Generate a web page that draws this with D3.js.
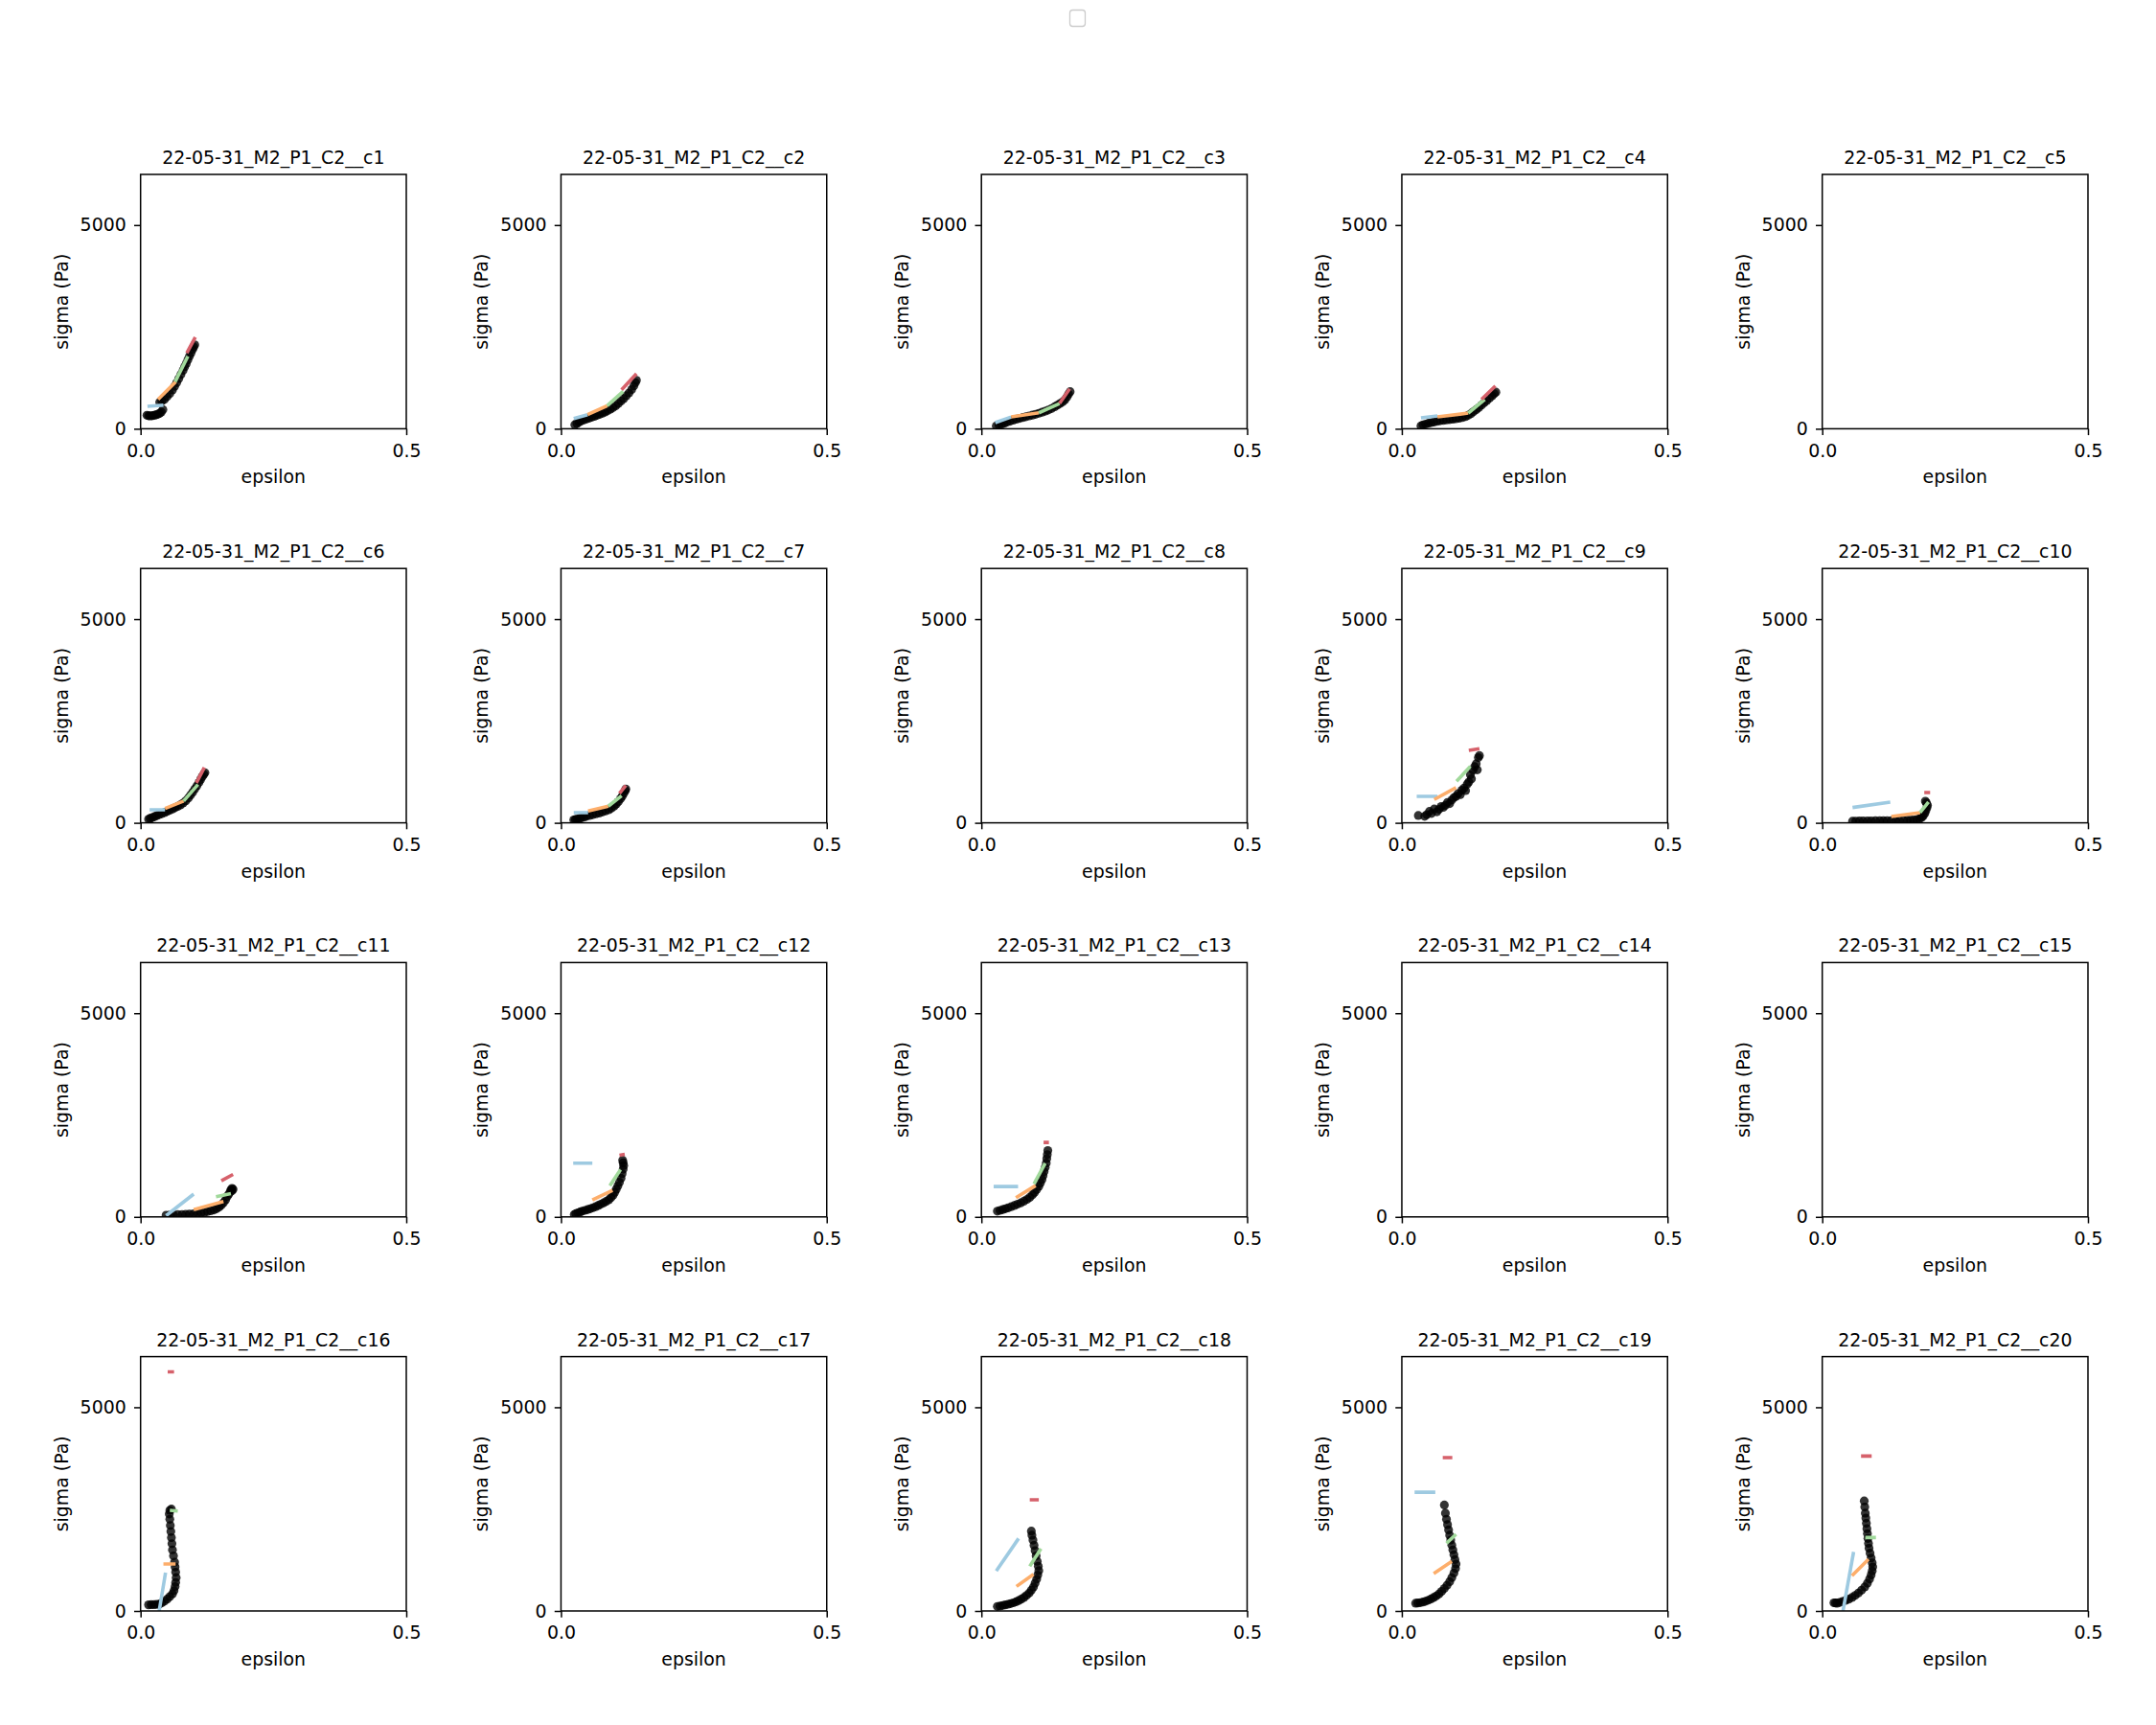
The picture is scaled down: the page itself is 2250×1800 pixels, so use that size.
<!DOCTYPE html>
<html>
<head>
<meta charset="utf-8">
<script src="https://cdn.jsdelivr.net/npm/d3@7"></script>
<style>
  html, body { margin: 0; padding: 0; background: #ffffff; }
  svg { display: block; font-family: "DejaVu Sans", sans-serif; }
</style>
</head>
<body>
<svg id="chart" width="2250" height="1800"></svg>
<script>
// ---------------- data ----------------
const cellNames = [
  "22-05-31_M2_P1_C2__c1","22-05-31_M2_P1_C2__c2","22-05-31_M2_P1_C2__c3","22-05-31_M2_P1_C2__c4","22-05-31_M2_P1_C2__c5",
  "22-05-31_M2_P1_C2__c6","22-05-31_M2_P1_C2__c7","22-05-31_M2_P1_C2__c8","22-05-31_M2_P1_C2__c9","22-05-31_M2_P1_C2__c10",
  "22-05-31_M2_P1_C2__c11","22-05-31_M2_P1_C2__c12","22-05-31_M2_P1_C2__c13","22-05-31_M2_P1_C2__c14","22-05-31_M2_P1_C2__c15",
  "22-05-31_M2_P1_C2__c16","22-05-31_M2_P1_C2__c17","22-05-31_M2_P1_C2__c18","22-05-31_M2_P1_C2__c19","22-05-31_M2_P1_C2__c20"
];
const xTicks = [0, 0.5];
const yTicks = [0, 5000];
const xLabel = "epsilon";
const yLabel = "sigma (Pa)";
const fitColors = ["#9ecae1", "#fdae6b", "#a1d99b", "#d6616b"];

// strain (epsilon) and stress (sigma, Pa) points per cell
const eps_c1 = [.012,.015,.018,.021,.024,.027,.03,.033,.036,.039,.042,.036,.04,.045,.05,.055,.06,.064,.068,.072,.076,.08,.083,.086,.089,.092,.095,.098,.1,.102];
const sig_c1 = [330,320,315,320,325,335,345,360,380,410,470,650,680,720,790,860,950,1040,1130,1230,1330,1430,1520,1600,1690,1780,1860,1950,2010,2060];
const eps_c2 = [.026,.03,.034,.038,.043,.048,.053,.058,.063,.068,.073,.078,.083,.088,.093,.098,.103,.108,.113,.118,.123,.128,.133,.137,.14,.142];
const sig_c2 = [100,130,160,190,215,240,260,285,305,330,355,380,410,445,480,520,565,620,680,740,810,880,960,1050,1130,1190];
const eps_c3 = [.028,.033,.038,.043,.048,.054,.06,.066,.072,.078,.084,.09,.096,.102,.108,.114,.12,.126,.132,.138,.143,.148,.153,.157,.161,.164,.167];
const sig_c3 = [70,90,110,135,160,185,210,235,255,275,295,315,335,355,380,405,430,460,495,540,580,620,660,710,780,850,910];
const eps_c4 = [.036,.04,.045,.05,.055,.06,.066,.072,.078,.084,.09,.096,.102,.108,.114,.12,.125,.13,.135,.14,.145,.15,.155,.16,.165,.17,.174,.177];
const sig_c4 = [70,95,115,135,150,165,180,195,205,215,225,235,245,260,275,300,330,370,420,470,520,580,640,690,750,810,860,900];
const eps_c6 = [.015,.018,.022,.026,.03,.035,.04,.045,.05,.055,.06,.065,.07,.075,.08,.085,.09,.094,.098,.102,.106,.11,.113,.116,.119,.121];
const sig_c6 = [90,110,130,150,175,200,225,250,280,310,340,370,405,440,485,540,610,680,750,830,910,990,1060,1130,1190,1230];
const eps_c7 = [.024,.027,.03,.034,.038,.043,.048,.054,.06,.066,.072,.078,.084,.09,.095,.1,.104,.108,.112,.115,.118,.121,.122];
const sig_c7 = [70,80,90,105,120,140,160,180,200,220,240,265,290,320,360,410,460,520,590,650,720,790,830];
const eps_c9 = [.031,.043,.047,.052,.056,.061,.066,.07,.074,.078,.082,.086,.09,.094,.098,.102,.106,.11,.113,.117,.12,.123,.126,.129,.131,.134,.137,.14,.142,.144,.146];
const sig_c9 = [180,160,200,280,230,340,270,330,400,380,430,500,470,560,620,650,720,690,800,850,790,950,1000,1180,1080,1290,1380,1450,1300,1600,1650];
const eps_c10 = [.057,.063,.07,.077,.085,.092,.1,.108,.115,.122,.13,.138,.145,.153,.16,.166,.172,.178,.183,.187,.19,.193,.195,.197,.198,.196,.194];
const sig_c10 = [40,42,45,45,47,48,50,50,52,55,55,57,58,60,62,65,70,80,100,130,170,230,300,370,430,490,530];
const eps_c11 = [.048,.055,.062,.07,.078,.085,.092,.1,.107,.114,.12,.126,.132,.138,.143,.148,.152,.156,.16,.163,.166,.169,.17,.172,.174,.172];
const sig_c11 = [40,45,50,55,60,65,70,75,85,95,110,130,150,170,200,240,290,350,420,500,560,620,660,700,680,640];
const eps_c12 = [.025,.028,.032,.036,.04,.045,.05,.055,.06,.065,.07,.075,.08,.085,.09,.094,.098,.101,.104,.107,.11,.113,.115,.117,.118,.117,.116];
const sig_c12 = [60,80,100,120,140,160,180,200,225,250,280,310,345,380,420,470,530,600,680,760,850,950,1060,1170,1260,1330,1390];
const eps_c13 = [.03,.035,.04,.045,.05,.056,.062,.068,.074,.08,.086,.091,.096,.1,.104,.108,.111,.114,.116,.118,.12,.122,.123,.124,.125];
const sig_c13 = [140,160,180,200,220,250,280,310,345,385,430,480,540,600,670,750,830,920,1010,1110,1210,1320,1430,1530,1630];
const eps_c16 = [.015,.02,.025,.03,.035,.04,.045,.05,.055,.06,.063,.065,.066,.067,.066,.065,.064,.062,.06,.059,.058,.057,.056,.055,.054,.055,.058];
const sig_c16 = [150,155,155,160,165,200,240,290,350,420,500,600,700,820,950,1080,1200,1350,1500,1650,1800,1950,2100,2250,2380,2470,2500];
const eps_c18 = [.03,.035,.04,.045,.05,.055,.06,.065,.07,.075,.08,.085,.09,.094,.098,.101,.104,.106,.108,.107,.105,.103,.101,.099,.097,.095,.094];
const sig_c18 = [110,120,135,150,165,180,200,225,255,290,330,380,440,510,590,680,780,880,990,1100,1220,1350,1480,1610,1740,1860,1960];
const eps_c19 = [.026,.03,.035,.04,.045,.05,.055,.06,.065,.07,.075,.08,.085,.09,.094,.098,.101,.102,.1,.098,.096,.094,.092,.09,.088,.086,.084,.082,.08];
const sig_c19 = [190,195,205,220,240,265,295,330,370,420,480,550,630,720,820,930,1040,1150,1260,1380,1500,1620,1740,1860,1990,2120,2250,2400,2600];
const eps_c20 = [.022,.025,.028,.033,.038,.044,.05,.056,.062,.068,.074,.08,.085,.089,.092,.094,.095,.094,.092,.09,.088,.087,.086,.085,.084,.083,.082,.081,.08,.079];
const sig_c20 = [200,195,190,210,230,260,290,330,380,440,510,590,680,780,880,980,1080,1180,1300,1420,1540,1660,1780,1900,2020,2150,2280,2400,2550,2700];

// fitted segments per cell: [eps1, sigma1, eps2, sigma2] for the 4 strain ranges
const fit_c1  = [[.013,549,.043,580],[.033,721,.066,1152],[.065,1152,.089,1779],[.087,1857,.103,2249]];
const fit_c2  = [[.024,251,.05,345],[.05,345,.087,564],[.087,564,.117,917],[.114,956,.142,1348]];
const fit_c3  = [[.026,149,.056,290],[.056,290,.108,392],[.108,392,.147,619],[.147,619,.166,980]];
const fit_c4  = [[.036,267,.067,314],[.067,290,.125,384],[.125,384,.156,721],[.15,721,.176,1050]];
const fit_c6  = [[.017,321,.046,321],[.046,353,.081,533],[.081,533,.108,941],[.105,980,.12,1356]];
const fit_c7  = [[.024,251,.051,251],[.051,290,.089,408],[.089,408,.114,666],[.11,721,.122,917]];
const fit_c9  = [[.028,650,.067,650],[.061,572,.102,862],[.103,1019,.129,1387],[.126,1779,.146,1819]];
const fit_c10 = [[.057,376,.128,509],[.13,157,.184,251],[.184,251,.2,509],[.192,745,.203,745]];
const fit_c11 = [[.048,30,.1,560],[.1,180,.156,376],[.142,494,.17,572],[.152,886,.174,1043]];
const fit_c12 = [[.023,1317,.059,1317],[.059,415,.097,651],[.092,768,.112,1160],[.11,1513,.12,1537]];
const fit_c13 = [[.023,745,.069,745],[.065,470,.102,768],[.099,808,.12,1317],[.117,1827,.127,1827]];
const fit_c16 = [[.035,0,.047,940],[.043,1152,.066,1152],[.055,2469,.07,2453],[.051,5870,.063,5870]];
const fit_c18 = [[.028,980,.07,1779],[.066,603,.098,901],[.091,1097,.112,1528],[.091,2727,.108,2727]];
const fit_c19 = [[.024,2915,.063,2915],[.06,917,.094,1215],[.084,1661,.102,1881],[.077,3762,.095,3762]];
const fit_c20 = [[.039,0,.059,1450],[.056,862,.087,1270],[.081,1803,.101,1803],[.073,3801,.093,3801]];

const cellEps = [eps_c1, eps_c2, eps_c3, eps_c4, null, eps_c6, eps_c7, null, eps_c9, eps_c10,
                 eps_c11, eps_c12, eps_c13, null, null, eps_c16, null, eps_c18, eps_c19, eps_c20];
const cellSig = [sig_c1, sig_c2, sig_c3, sig_c4, null, sig_c6, sig_c7, null, sig_c9, sig_c10,
                 sig_c11, sig_c12, sig_c13, null, null, sig_c16, null, sig_c18, sig_c19, sig_c20];
const cellFits = [fit_c1, fit_c2, fit_c3, fit_c4, null, fit_c6, fit_c7, null, fit_c9, fit_c10,
                  fit_c11, fit_c12, fit_c13, null, null, fit_c16, null, fit_c18, fit_c19, fit_c20];

// ---------------- layout ----------------
const nCols = 5;
const left0 = 146.7, colStep = 438.75;
const top0 = 182, rowStep = 411.2;
const W = 277.3, H = 265.4;
const yMax = 6243;
const fontSize = 18.9;

const svg = d3.select("#chart");
svg.append("rect").attr("width", 2250).attr("height", 1800).attr("fill", "#fff");

// empty legend box at top
svg.append("rect")
  .attr("x", 1116.5).attr("y", 10.5).attr("width", 16).attr("height", 17)
  .attr("rx", 3).attr("ry", 3)
  .attr("fill", "#fff").attr("fill-opacity", 0.8)
  .attr("stroke", "#cccccc").attr("stroke-width", 1.3);

const x = d3.scaleLinear().domain([0, 0.5]).range([0, W]);
const y = d3.scaleLinear().domain([0, yMax]).range([H, 0]);

cellNames.forEach((name, k) => {
  const r = Math.floor(k / nCols), c = k % nCols;
  const g = svg.append("g").attr("transform", `translate(${left0 + c * colStep},${top0 + r * rowStep})`);

  const clipId = "clip" + k;
  g.append("clipPath").attr("id", clipId).append("rect").attr("width", W).attr("height", H);
  const plot = g.append("g").attr("clip-path", `url(#${clipId})`);

  const ex = cellEps[k], sg = cellSig[k], fits = cellFits[k];
  if (ex) {
    const pts = ex.map((e, i) => [e, sg[i]]);
    plot.selectAll("circle").data(pts).enter().append("circle")
      .attr("cx", d => x(d[0])).attr("cy", d => y(d[1]))
      .attr("r", 4.6).attr("fill", "#000").attr("fill-opacity", 0.8);
  }
  if (fits) {
    plot.selectAll("line.fit").data(fits).enter().append("line")
      .attr("class", "fit")
      .attr("x1", d => x(d[0])).attr("y1", d => y(d[1]))
      .attr("x2", d => x(d[2])).attr("y2", d => y(d[3]))
      .attr("stroke", (d, i) => fitColors[i]).attr("stroke-width", 3.6);
  }

  // axes
  const xa = g.append("g").attr("transform", `translate(0,${H})`)
    .call(d3.axisBottom(x).tickValues(xTicks).tickFormat(d3.format(".1f")).tickSize(6.7).tickSizeOuter(0));
  const ya = g.append("g")
    .call(d3.axisLeft(y).tickValues(yTicks).tickFormat(d3.format("d")).tickSize(6.7).tickSizeOuter(0));
  [xa, ya].forEach(a => {
    a.select(".domain").remove();
    a.selectAll(".tick line").attr("stroke", "#000").attr("stroke-width", 1.5);
    a.selectAll(".tick text").attr("fill", "#000").style("font-size", fontSize + "px")
      .style("font-family", "'DejaVu Sans', sans-serif");
  });
  xa.selectAll(".tick text").attr("y", 16).attr("dy", "0.71em");
  ya.selectAll(".tick text").attr("x", -15).attr("dy", "0.32em");

  // spines
  g.append("rect").attr("width", W).attr("height", H)
    .attr("fill", "none").attr("stroke", "#000").attr("stroke-width", 1.5);

  // title
  g.append("text").attr("x", W / 2).attr("y", -11)
    .attr("text-anchor", "middle").style("font-size", fontSize + "px").attr("fill", "#000")
    .text(name);
  // x label
  g.append("text").attr("x", W / 2).attr("y", H + 57)
    .attr("text-anchor", "middle").style("font-size", fontSize + "px").attr("fill", "#000")
    .text(xLabel);
  // y label
  g.append("text").attr("transform", `translate(-76,${H / 2}) rotate(-90)`)
    .attr("text-anchor", "middle").style("font-size", fontSize + "px").attr("fill", "#000")
    .text(yLabel);
});
</script>
</body>
</html>
